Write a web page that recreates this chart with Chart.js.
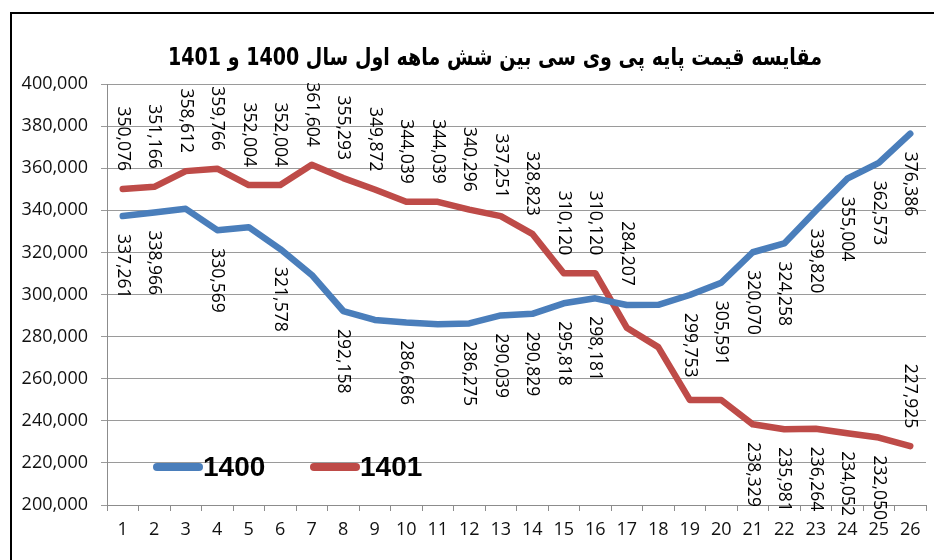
<!DOCTYPE html>
<html>
<head>
<meta charset="utf-8">
<script src="https://cdn.jsdelivr.net/npm/chart.js@4"></script>
<style>
  html, body { margin: 0; padding: 0; background: #fff; overflow: hidden; }
  #wrap { position: relative; width: 934px; height: 560px; }
</style>
</head>
<body>
<div id="wrap"><canvas id="myChart" width="934" height="560"></canvas></div>
<script>
// x categories (half-month steps)
const periods = ["1","2","3","4","5","6","7","8","9","10","11","12","13",
                 "14","15","16","17","18","19","20","21","22","23","24","25","26"];

// price series, rials per kg
const price1400 = [337261, 338966, 340700, 330569, 332000, 321578, 309300, 292158,
                   287900, 286686, 285900, 286275, 290039, 290829, 295818, 298181,
                   295000, 295100, 299753, 305591, 320070, 324258, 339820, 355004,
                   362573, 376386];
const price1401 = [350076, 351166, 358612, 359766, 352004, 352004, 361604, 355293,
                   349872, 344039, 344039, 340296, 337251, 328823, 310120, 310120,
                   284207, 275000, 249900, 249900, 238329, 235981, 236264, 234052,
                   232050, 227925];

// points (1-based) that carry no value label in the original
const unlabeled1400 = [3, 5, 7, 9, 11, 17, 18];
const unlabeled1401 = [18, 19, 20];
// 1401 labels that sit under the line instead of above it
const below1401 = [21, 22, 23, 24, 25];

const yMin = 200000, yMax = 400000, yStep = 20000;

const chartTitle = "مقایسه قیمت پایه پی وی سی بین شش ماهه اول سال 1400 و 1401";

const fmt = v => v.toLocaleString("en-US");

const frameAndTitle = {
  id: "frameAndTitle",
  beforeDraw(chart) {
    const ctx = chart.ctx;
    ctx.save();
    ctx.fillStyle = "#fff";
    ctx.fillRect(0, 0, chart.width, chart.height);
    ctx.strokeStyle = "#000";
    ctx.lineWidth = 2;
    ctx.strokeRect(11, 13, 1000, 1000);
    ctx.restore();
  },
  afterDraw(chart) {
    const ctx = chart.ctx;
    ctx.save();
    ctx.font = "bold 24px 'DejaVu Sans'";
    ctx.fillStyle = "#000";
    ctx.textAlign = "center";
    ctx.textBaseline = "middle";
    ctx.direction = "rtl";
    // squeeze horizontally, the original face is narrower than DejaVu
    const w = ctx.measureText(chartTitle).width;
    ctx.translate(495, 59);
    ctx.scale(654 / w, 1);
    ctx.fillText(chartTitle, 0, 0);
    ctx.restore();
  }
};

const valueLabels = {
  id: "valueLabels",
  afterDatasetsDraw(chart) {
    const ctx = chart.ctx;
    ctx.save();
    ctx.font = "17.5px 'Open Sans'";
    ctx.fillStyle = "#000";
    ctx.textBaseline = "middle";
    chart.data.datasets.forEach((ds, di) => {
      const meta = chart.getDatasetMeta(di);
      const skip = di === 0 ? unlabeled1400 : unlabeled1401;
      meta.data.forEach((pt, i) => {
        const n = i + 1;
        if (skip.includes(n)) return;
        let under = di === 0 || below1401.includes(n);
        let gap = 18;
        if (di === 1 && n === 17) gap = 42;
        ctx.save();
        ctx.translate(pt.x, under ? pt.y + gap : pt.y - gap);
        ctx.rotate(Math.PI / 2);
        ctx.textAlign = under ? "left" : "right";
        ctx.fillText(fmt(ds.data[i]), 0, 0);
        ctx.restore();
      });
    });
    ctx.restore();
  }
};

const inlineLegend = {
  id: "inlineLegend",
  afterDraw(chart) {
    const ctx = chart.ctx;
    const spots = [157, 314];
    ctx.save();
    ctx.font = "bold 28px 'Liberation Sans'";
    ctx.textBaseline = "middle";
    ctx.textAlign = "left";
    chart.data.datasets.forEach((ds, i) => {
      const x = spots[i];
      ctx.strokeStyle = ds.borderColor;
      ctx.lineWidth = 8;
      ctx.lineCap = "round";
      ctx.beginPath();
      ctx.moveTo(x, 467);
      ctx.lineTo(x + 42, 467);
      ctx.stroke();
      ctx.fillStyle = "#000";
      ctx.fillText(ds.label, x + 46, 468);
    });
    ctx.restore();
  }
};

new Chart(document.getElementById("myChart"), {
  type: "line",
  data: {
    labels: periods,
    datasets: [
      {
        label: "1400",
        data: price1400,
        borderColor: "#4a7ebb",
        borderWidth: 6.5,
        borderJoinStyle: "round",
        borderCapStyle: "round",
        pointRadius: 0,
        tension: 0
      },
      {
        label: "1401",
        data: price1401,
        borderColor: "#be4b48",
        borderWidth: 6.5,
        borderJoinStyle: "round",
        borderCapStyle: "round",
        pointRadius: 0,
        tension: 0
      }
    ]
  },
  options: {
    responsive: false,
    animation: false,
    layout: { padding: { left: 10, right: 8, top: 84, bottom: 0 } },
    plugins: {
      legend: { display: false },
      title: { display: false },
      tooltip: { enabled: false }
    },
    scales: {
      x: {
        offset: true,
        afterFit: s => { s.height = 55; },
        grid: { offset: true, drawOnChartArea: false, tickLength: 6, color: "#8c8c8c" },
        border: { color: "#8c8c8c", width: 1 },
        ticks: {
          color: "#111",
          font: { family: "Open Sans", size: 18 },
          padding: 8,
          maxRotation: 0,
          autoSkip: false
        }
      },
      y: {
        min: yMin,
        max: yMax,
        afterFit: s => { s.width = 97; },
        grid: { color: "#9a9a9a", tickLength: 6 },
        border: { color: "#8c8c8c", width: 1 },
        ticks: {
          stepSize: yStep,
          color: "#111",
          font: { family: "Open Sans", size: 18 },
          padding: 13,
          callback: v => fmt(v)
        }
      }
    }
  },
  plugins: [frameAndTitle, valueLabels, inlineLegend]
});
</script>
</body>
</html>
